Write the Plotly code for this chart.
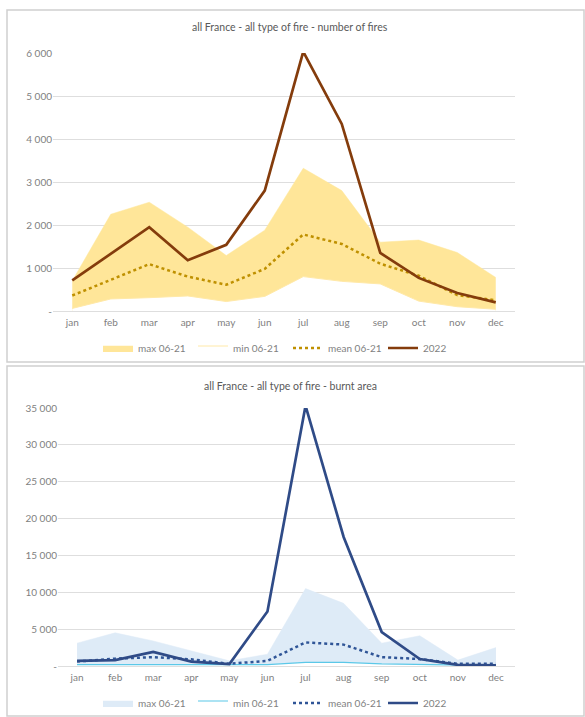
import plotly.graph_objects as go

months = ["jan", "feb", "mar", "apr", "may", "jun", "jul", "aug", "sep", "oct", "nov", "dec"]

# Number of fires
fires_max = [700, 2250, 2530, 1950, 1290, 1880, 3320, 2800, 1600, 1650, 1360, 780]
fires_min = [60, 280, 310, 350, 220, 340, 800, 690, 630, 230, 100, 40]
fires_mean = [360, 720, 1090, 800, 610, 980, 1780, 1560, 1100, 820, 370, 250]
fires_2022 = [710, 1330, 1950, 1180, 1540, 2800, 6030, 4350, 1350, 770, 420, 200]

# Burnt area
area_max = [3100, 4500, 3400, 2000, 700, 1600, 10500, 8500, 3100, 4100, 800, 2500]
area_min = [200, 200, 250, 250, 150, 200, 500, 500, 300, 200, 100, 50]
area_mean = [600, 1000, 1200, 900, 300, 700, 3200, 2900, 1200, 950, 300, 300]
area_2022 = [700, 800, 1900, 600, 270, 7400, 35300, 17500, 4600, 950, 150, 100]

fires_ticks = [0, 1000, 2000, 3000, 4000, 5000, 6000]
fires_ticktext = ["-", "1 000", "2 000", "3 000", "4 000", "5 000", "6 000"]
area_ticks = [0, 5000, 10000, 15000, 20000, 25000, 30000, 35000]
area_ticktext = ["-", "5 000", "10 000", "15 000", "20 000", "25 000", "30 000", "35 000"]

W, H = 585, 717
FONT = "Lato"
GRAY = "#7f7f7f"
GRID = "#dedede"

def px_x(p):
    return p / W

def px_y(p):
    return 1 - p / H

fig = go.Figure()

# Top chart
fig.add_trace(go.Scatter(x=months, y=fires_max, name="max 06-21", mode="lines",
                         line=dict(color="#ffe699", width=0.5), fill="tozeroy",
                         fillcolor="#ffe699", xaxis="x", yaxis="y", legend="legend"))
fig.add_trace(go.Scatter(x=months, y=fires_min, name="min 06-21", mode="lines",
                         line=dict(color="#ffe9a8", width=1), fill="tozeroy",
                         fillcolor="#ffffff", xaxis="x", yaxis="y", legend="legend"))
fig.add_trace(go.Scatter(x=months, y=fires_mean, name="mean 06-21", mode="lines",
                         line=dict(color="#bf9000", width=2.5, dash="dot"),
                         xaxis="x", yaxis="y", legend="legend"))
fig.add_trace(go.Scatter(x=months, y=fires_2022, name="2022", mode="lines",
                         line=dict(color="#843c0c", width=2.7),
                         xaxis="x", yaxis="y", legend="legend"))

# Bottom chart
fig.add_trace(go.Scatter(x=months, y=area_max, name="max 06-21", mode="lines",
                         line=dict(color="#deebf7", width=0.5), fill="tozeroy",
                         fillcolor="#deebf7", xaxis="x2", yaxis="y2", legend="legend2"))
fig.add_trace(go.Scatter(x=months, y=area_min, name="min 06-21", mode="lines",
                         line=dict(color="#5bc8e8", width=1.2), fill="tozeroy",
                         fillcolor="#ffffff", xaxis="x2", yaxis="y2", legend="legend2"))
fig.add_trace(go.Scatter(x=months, y=area_mean, name="mean 06-21", mode="lines",
                         line=dict(color="#2f5597", width=2.5, dash="dot"),
                         xaxis="x2", yaxis="y2", legend="legend2"))
fig.add_trace(go.Scatter(x=months, y=area_2022, name="2022", mode="lines",
                         line=dict(color="#2f4b87", width=2.7),
                         xaxis="x2", yaxis="y2", legend="legend2"))

axis_font = dict(family=FONT, size=10, color=GRAY)

xcommon = dict(type="category", range=[-0.5, 11.5], showgrid=False, showline=False,
               ticks="", tickfont=axis_font, zeroline=False, fixedrange=True,
               automargin=False, ticklabelstandoff=4)
ycommon = dict(showgrid=True, gridcolor=GRID, gridwidth=1, zeroline=True,
               zerolinecolor=GRID, zerolinewidth=1, showline=False, ticks="",
               tickfont=axis_font, fixedrange=True, automargin=False)

legend_common = dict(orientation="h", xanchor="center", x=px_x(288), yanchor="middle",
                     font=dict(family=FONT, size=10, color=GRAY),
                     bgcolor="rgba(0,0,0,0)", entrywidth=50, entrywidthmode="pixels",
                     traceorder="normal", itemwidth=30)

fig.update_layout(
    width=W, height=H,
    margin=dict(l=0, r=0, t=0, b=0, autoexpand=False),
    paper_bgcolor="white", plot_bgcolor="white",
    showlegend=True,
    xaxis=dict(xcommon, domain=[px_x(53), px_x(515)], anchor="y"),
    yaxis=dict(ycommon, domain=[px_y(311), px_y(53)], range=[0, 6000],
               tickvals=fires_ticks, ticktext=fires_ticktext, anchor="x"),
    xaxis2=dict(xcommon, domain=[px_x(58), px_x(515)], anchor="y2"),
    yaxis2=dict(ycommon, domain=[px_y(666), px_y(408)], range=[0, 35000],
                tickvals=area_ticks, ticktext=area_ticktext, anchor="x2"),
    legend=dict(legend_common, y=px_y(348)),
    legend2=dict(legend_common, y=px_y(703)),
    annotations=[
        dict(text="all France - all type of fire - number of fires", xref="paper", yref="paper",
             x=px_x(290), y=px_y(27), showarrow=False, xanchor="center", yanchor="middle",
             font=dict(family=FONT, size=10.5, color="#595959")),
        dict(text="all France - all type of fire - burnt area", xref="paper", yref="paper",
             x=px_x(290), y=px_y(386), showarrow=False, xanchor="center", yanchor="middle",
             font=dict(family=FONT, size=10.5, color="#595959")),
    ],
    shapes=[
        dict(type="rect", xref="paper", yref="paper", x0=px_x(7), x1=px_x(584),
             y0=px_y(362), y1=px_y(10), line=dict(color="#d0d0d0", width=1.5)),
        dict(type="rect", xref="paper", yref="paper", x0=px_x(7), x1=px_x(584),
             y0=px_y(716), y1=px_y(366), line=dict(color="#d0d0d0", width=1.5)),
    ],
)

fig.write_html("out.html", config={"displayModeBar": False},
               post_script="document.body.style.margin='0';document.body.style.overflow='hidden';")
